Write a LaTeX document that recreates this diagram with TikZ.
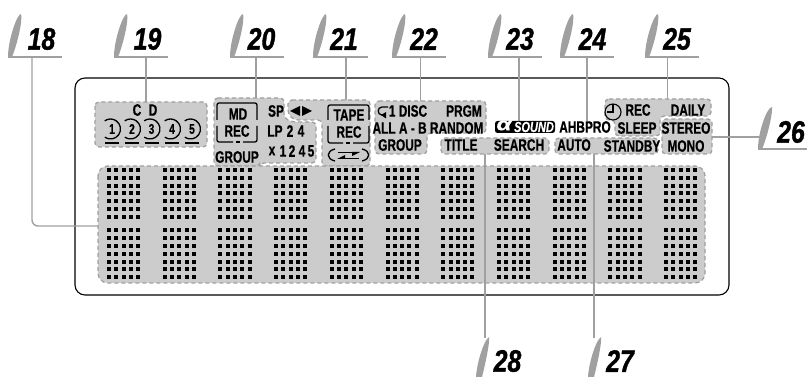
\documentclass[tikz,border=0pt]{standalone}
\usepackage{fontspec}
\setmainfont{Liberation Sans}
\newfontfamily\numfont[FakeStretch=0.8,FakeBold=1.2]{Liberation Sans Bold Italic}
\newfontfamily\lcdfont[FakeStretch=0.72,FakeBold=0.6]{Liberation Sans Bold}
\newfontfamily\sndfont[FakeStretch=0.76,FakeBold=0.3]{Liberation Sans Bold Italic}
\newfontfamily\alphafont[FakeStretch=1.35,FakeBold=0.4]{Liberation Sans Bold Italic}
\definecolor{leadgray}{HTML}{A0A0A0}
\definecolor{panelgray}{HTML}{CCCCCC}
\tikzset{
  panel/.style={fill=panelgray,draw=leadgray,line width=1.3pt,dash pattern=on 4pt off 3pt,rounded corners=4pt},
  leader/.style={draw=leadgray,line width=1.4pt},
  leaf/.style={fill=leadgray,draw=none},
  num/.style={font=\fontsize{31}{31}\numfont,inner sep=0pt},
  lcd/.style={font=\fontsize{16.5}{16.5}\lcdfont,inner sep=0pt},
  lcdsmall/.style={font=\fontsize{14}{14}\lcdfont,inner sep=0pt},
  ink/.style={draw=black,line width=1.3pt},
}
\newcommand{\topflag}[5]{% name, left x, label, right end, label centre x
  \fill[leaf] (#2,57) .. controls (#2,40) and (#2+9,14) .. (#2+13,14)
     .. controls (#2+15,20) and (#2+9,45) .. (#2+4,57) -- cycle;
  \coordinate (#1a) at (#2,57);
  \coordinate (#1b) at (#4,57);
  \draw[leader] (#1a) -- (#1b);
  \node[num] (#1) at (#5,39) {#3};
}
\newcommand{\lowflag}[4]{% name, tip x, label, label centre x
  \fill[leaf] (#2,337) .. controls (#2+1,343) and (#2-4,365) .. (#2-7,377)
     -- (#2-13,377) .. controls (#2-12,362) and (#2-5,340) .. (#2,337) -- cycle;
  \coordinate (#1a) at (#2-3,340);
  \node[num] (#1) at (#4,361) {#3};
}
\begin{document}
\begin{tikzpicture}[x=1pt,y=-1pt]
\useasboundingbox (0,0) rectangle (807,377);
% outer display
\draw[black,line width=1.1pt,rounded corners=10pt] (75,78) rectangle (729,295);
% panels
\draw[panel] (95,102) rectangle (207,147);
\draw[panel] (214,98) -- (284,98) -- (284,118) -- (292,122) -- (316,122) -- (316,163) -- (260,163) -- (260,166) -- (214,166) -- cycle;
\draw[panel] (288,100) -- (370,100) -- (370,166) -- (322,166) -- (322,120) -- (294,120) -- (288,114) -- cycle;
\draw[panel] (375,101) -- (486,101) -- (486,133) -- (427,133) -- (427,154) -- (375,154) -- cycle;
\draw[panel] (441,138) rectangle (549,154);
\draw[panel] (555,138) rectangle (658,154);
\draw[panel] (605,99) -- (711,99) -- (711,116) -- (660,116) -- (660,136) -- (615,136) -- (615,120) -- (605,120) -- cycle;
\draw[panel] (662,119) rectangle (712,154);
\draw[panel,rounded corners=10pt] (98,166) rectangle (705,283);
% dot matrix
\foreach \b in {0,...,10}{
  \foreach \c in {0,...,4}{
    \foreach \r in {0,...,6}{
      \fill[black] ({107+55.7*\b+7.3*\c},{168+7.8*\r}) rectangle +(4,4);
      \fill[black] ({107+55.7*\b+7.3*\c},{228.4+7.8*\r}) rectangle +(4,4);
    }
  }
}
% callouts, top row
\topflag{n18}{8}{18}{62}{41.5}
\topflag{n19}{114}{19}{168}{147.5}
\topflag{n20}{230}{20}{284}{261.5}
\topflag{n21}{313}{21}{368}{344}
\topflag{n22}{392}{22}{446}{424}
\topflag{n23}{488}{23}{542}{520}
\topflag{n24}{560}{24}{614}{592.5}
\topflag{n25}{645}{25}{699}{677}
% callout 26
\fill[leaf] (758,149) .. controls (758,132) and (767,107) .. (772,107)
   .. controls (773,113) and (767,138) .. (762,149) -- cycle;
\coordinate (n26a) at (758,149);
\coordinate (n26b) at (807,149);
\draw[leader] (n26a) -- (n26b);
\node[num] (n26) at (791,132) {26};
% callouts, bottom row
\lowflag{n28}{489}{28}{507.5}
\lowflag{n27}{601}{27}{620}
% leaders
\coordinate (e18a) at (32,57); \coordinate (e18c) at (32,226); \coordinate (e18d) at (98,226);
\draw[leader,rounded corners=6pt] (e18a) -- (e18c) -- (e18d);
\coordinate (e19a) at (146,57); \coordinate (e19b) at (146,102); \draw[leader] (e19a) -- (e19b);
\coordinate (e20a) at (256,57); \coordinate (e20b) at (256,98); \draw[leader] (e20a) -- (e20b);
\coordinate (e21a) at (346,57); \coordinate (e21b) at (346,100); \draw[leader] (e21a) -- (e21b);
\coordinate (e22a) at (420.5,57); \coordinate (e22b) at (420.5,101); \draw[leader] (e22a) -- (e22b);
\coordinate (e23a) at (519,57); \coordinate (e23b) at (519,121); \draw[leader] (e23a) -- (e23b);
\coordinate (e24a) at (587,57); \coordinate (e24b) at (587,121); \draw[leader] (e24a) -- (e24b);
\coordinate (e25a) at (667.5,57); \coordinate (e25b) at (667.5,99); \draw[leader] (e25a) -- (e25b);
\coordinate (e26a) at (712,137); \coordinate (e26b) at (760,137); \draw[leader] (e26a) -- (e26b);
\coordinate (e28a) at (485,154); \coordinate (e28b) at (485,338); \draw[leader] (e28a) -- (e28b);
\coordinate (e27a) at (594,154); \coordinate (e27b) at (594,338); \draw[leader] (e27a) -- (e27b);
% CD
\node[lcd] (cdc) at (137,110) {C};
\node[lcd] (cdd) at (153,110) {D};
\foreach \x/\d in {112/1,132/2,151.5/3,172/4,192/5}{
  \draw[ink] (\x-1.5,129) ++(125:10) arc[start angle=125,end angle=-125,radius=10];
  \draw[ink,line width=1.6pt] (\x-7,143) -- (\x+7,143);
  \node[lcdsmall] (disc\d) at (\x,129) {\d};
}
% MD box
\draw[ink,rounded corners=2pt] (217,120) -- (217,103) -- (257,103) -- (257,120);
\draw[ink,rounded corners=2pt] (217,126) -- (217,142) -- (233,142);
\draw[ink] (236,142) -- (240,142);
\draw[ink,rounded corners=2pt] (243,142) -- (257,142) -- (257,126);
\node[lcd] (mdt) at (238,114) {MD};
\node[lcd] (mdr) at (237,131) {REC};
\node[lcd] (grp1) at (237,157) {GROUP};
\node[lcd] (sp) at (276,111) {SP};
\fill[black] (290,111) -- (300,106) -- (300,116) -- cycle;
\fill[black] (312,111) -- (302,106) -- (302,116) -- cycle;
\node[lcd] (lp) at (275,131) {LP};
\node[lcd] (two) at (290,131) {2};
\node[lcd] (four) at (301,131) {4};
\node[lcd] (xlab) at (272,151) {x};
\foreach \x/\d in {283/1,292/2,302/4,311/5}{\node[lcd] (sp\d) at (\x,151) {\d};}
% Tape box
\draw[ink,rounded corners=2pt] (328,120) -- (328,105) -- (369,105) -- (369,120);
\draw[ink,rounded corners=2pt] (328,126) -- (328,143) -- (343,143);
\draw[ink] (346,143) -- (350,143);
\draw[ink,rounded corners=2pt] (353,143) -- (369,143) -- (369,126);
\node[lcd] (tape) at (349,115) {TAPE};
\node[lcd] (trec) at (349,132) {REC};
\draw[ink] (335,149) .. controls (326,151) and (326,159) .. (335,161);
\draw[ink] (362,149) .. controls (371,151) and (371,159) .. (362,161);
\draw[ink] (338,152.5) -- (358,152.5);
\fill[black] (360,152) -- (352,152) -- (352,156) -- cycle;
\draw[ink] (339,158.5) -- (359,158.5);
\fill[black] (337,159) -- (345,159) -- (345,155) -- cycle;
% panel 22
\draw[ink] (388,107) -- (382,107) .. controls (377,107) and (377,115) .. (382,115) -- (383,115);
\fill[black] (381,115) -- (386,112) -- (386,118.5) -- cycle;
\node[lcd] (disc) at (408,111) {1 DISC};
\node[lcd] (prgm) at (464,111) {PRGM};
\node[lcd] (allab) at (428,128) {ALL A - B RANDOM};
\node[lcd] (grp2) at (400,145) {GROUP};
\node[lcd] (title) at (461,145) {TITLE};
\node[lcd] (search) at (519,145) {SEARCH};
% alpha sound
\fill[black,rounded corners=2.5pt] (495,121) rectangle (555,133);
\node[font=\fontsize{18}{18}\alphafont,text=white,inner sep=0pt] (alpha) at (504,125.5) {α};
\node[font=\fontsize{14.5}{14.5}\sndfont,text=white,inner sep=0pt] (snd) at (534,127) {SOUND};
\node[lcd] (ahb) at (585,127) {AHBPRO};
\node[lcd] (auto) at (574,145) {AUTO};
\node[lcd] (standby) at (632,146) {STANDBY};
\node[lcd] (mono) at (686,146) {MONO};
\node[lcd] (stereo) at (686,128) {STEREO};
\node[lcd] (sleep) at (637,128) {SLEEP};
\node[lcd] (rec3) at (638,110) {REC};
\node[lcd] (daily) at (688,110) {DAILY};
% clock
\coordinate (clk) at (613,112);
\draw[ink,line width=1.1pt] (clk) circle[radius=8];
\draw[ink,line width=1.1pt] (613,104) -- (clk) -- (607,112);
\end{tikzpicture}
\end{document}
